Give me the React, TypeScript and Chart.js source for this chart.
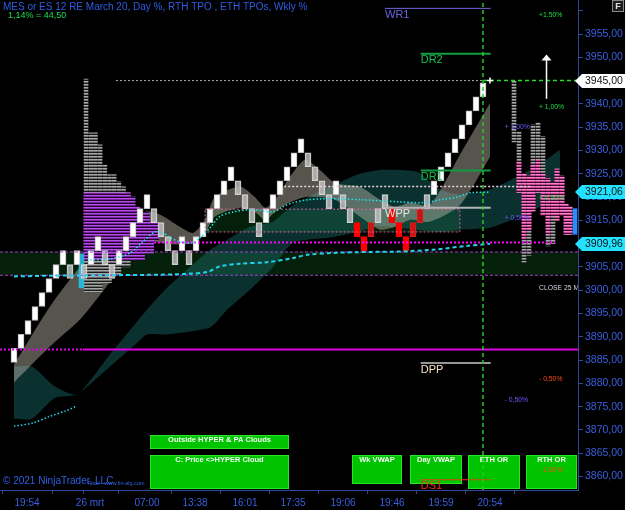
import React, { useEffect, useRef } from 'react';
import { Chart, registerables } from 'chart.js';

Chart.register(...registerables);

const FONT = '"Liberation Sans", Arial, Helvetica, sans-serif';
const AXIS_LINE = '#2f4596';
const AXIS_TEXT = '#3b5fe0';

// ---------- axes ----------
const yMin = 3857.1;
const yMax = 3962.3;
const xMin = -2;
const xMax = 80.57;
const xTickCols = [1.86, 9, 10.86, 19, 25.86, 33, 39.86, 47, 54, 61, 68];
const xTickLabels = ['19:54', '', '26 mrt', '07:00', '13:38', '16:01', '17:35', '19:06', '19:46', '19:59', '20:54'];

// ---------- renko bricks (3 pt) ----------
const BRICK_SIZE = 3;
const brickLow = [
  3884.5, 3887.5, 3890.5, 3893.5, 3896.5, 3899.5, 3902.5, 3905.5, 3902.5, 3905.5,
  3902.5, 3905.5, 3908.5, 3905.5, 3902.5, 3905.5, 3908.5, 3911.5, 3914.5, 3917.5,
  3914.5, 3911.5, 3908.5, 3905.5, 3908.5, 3905.5, 3908.5, 3911.5, 3914.5, 3917.5,
  3920.5, 3923.5, 3920.5, 3917.5, 3914.5, 3911.5, 3914.5, 3917.5, 3920.5, 3923.5,
  3926.5, 3929.5, 3926.5, 3923.5, 3920.5, 3917.5, 3920.5, 3917.5, 3914.5, 3911.5,
  3908.5, 3911.5, 3914.5, 3917.5, 3914.5, 3911.5, 3908.5, 3911.5, 3914.5, 3917.5,
  3920.5, 3923.5, 3926.5, 3929.5, 3932.5, 3935.5, 3938.5, 3941.5,
];
const brickPaint = ('WWWWWWWW' + 'GWGWWGGWWWWW' + 'GGGG' + 'WG' + 'WWWWWW' + 'GGGG' + 'WWWWWW' +
  'GGGG' + 'W' + 'GG' + 'RR' + 'D' + 'GG' + 'RRR' + 'DD' + 'G' + 'WWWWWWWW').split('');

const markerCol = [9.64];
const markerLow = [3900.5];
const markerHigh = [3907.8];

// ---------- RTH TPO profile (left) ----------
const leftTpoCol = [10.29, 10.96, 11.63, 12.3, 12.97, 13.64, 14.31, 14.98, 15.65, 16.32, 16.99, 17.66, 18.33, 19.0, 19.67, 20.34];
const leftTpoLow = [3899.7, 3899.7, 3899.7, 3899.7, 3901.6, 3901.6, 3903.3, 3903.3, 3905.0, 3905.0, 3906.5, 3906.5, 3906.5, 3908.0, 3908.0, 3910.8];
const leftTpoHigh = [3945.3, 3933.8, 3933.8, 3931.2, 3926.9, 3924.8, 3924.8, 3923.3, 3922.2, 3920.9, 3920.0, 3917.9, 3916.6, 3916.6, 3914.5, 3914.5];
const valueAreaLow = 3906.5;
const valueAreaHigh = 3920.9;

// ---------- ETH TPO profile (right) ----------
const rightTpoCol = [71.43, 72.14, 72.86, 73.57, 74.14, 74.86, 75.57, 76.29, 77.0, 77.57, 78.29, 78.86, 79.43];
const rightTpoLow = [3931.8, 3921.0, 3906.0, 3907.5, 3917.0, 3921.0, 3916.0, 3909.5, 3910.0, 3915.0, 3916.0, 3912.0, 3912.0];
const rightTpoHigh = [3945.0, 3934.0, 3925.0, 3924.5, 3935.5, 3936.0, 3933.0, 3924.0, 3923.0, 3926.0, 3924.5, 3918.5, 3918.0];
const rightPinkLow = [null, 3921.0, 3911.0, 3913.0, 3917.0, 3921.0, 3916.0, 3912.0, 3916.0, 3915.0, 3916.0, 3912.0, 3912.0];
const rightPinkHigh = [null, 3927.5, 3925.0, 3924.5, 3927.0, 3928.0, 3925.0, 3924.0, 3923.0, 3926.0, 3924.5, 3918.5, 3918.0];
const blueBarCol = [80.14];
const blueBarLow = [3912.0];
const blueBarHigh = [3917.5];

// ---------- VWAP lines ----------
const vwapACol = [10.9, 13.7, 16.6, 18.4, 20.1, 21.3, 22.3, 23.7, 25.6, 26.6, 28, 29.4, 31.3, 34.1, 37, 38.4, 39.9, 41.9, 43.7, 46.6, 49.9, 54.7, 58.4, 60.9, 63.3, 65.1, 68];
const vwapAVal = [3906.5, 3906.7, 3908.0, 3910.4, 3912.5, 3912.3, 3911.3, 3910.4, 3910.2, 3911.3, 3913.4, 3915.8, 3916.8, 3917.3, 3916.8, 3917.9, 3918.8, 3919.4, 3919.6, 3919.6, 3919.4, 3919.0, 3918.8, 3919.4, 3920.0, 3920.9, 3921.06];
const vwapBCol = [0, 5.1, 12.3, 19.4, 24.7, 27.6, 29.4, 32.3, 36.1, 39.9, 41.9, 45.6, 50.4, 55.1, 59.9, 64.7, 68];
const vwapBVal = [3902.95, 3903.1, 3903.2, 3903.3, 3903.5, 3903.9, 3905.1, 3905.7, 3906.0, 3906.9, 3907.6, 3908.0, 3908.2, 3908.3, 3908.7, 3909.5, 3909.96];
const vwapCCol = [0, 2.7, 5.1, 7.6, 8.9];
const vwapCVal = [3870.8, 3871.5, 3872.9, 3874.2, 3875.1];

// ---------- clouds ----------
const hyperCol = [0, 5.14, 9.43, 12.3, 16.1, 18.7, 20.9, 23.7, 25.6, 27.3, 28.7, 32.3, 34.4, 35.9, 37.3, 39.4, 41.6, 43.7, 45.9, 49.4, 52.3, 54.4, 56.6, 59.4, 63.7, 68];
const hyperUpper = [3884.0, 3896.5, 3905.0, 3908.7, 3911.9, 3916.8, 3916.2, 3913.6, 3912.3, 3915.1, 3920.0, 3922.2, 3920.0, 3917.7, 3919.4, 3924.3, 3928.0, 3925.8, 3923.0, 3922.2, 3919.4, 3917.9, 3918.8, 3918.3, 3929.1, 3940.2];
const hyperLower = [3880.2, 3887.9, 3893.7, 3899.0, 3906.5, 3910.8, 3910.2, 3909.8, 3910.2, 3912.3, 3915.8, 3917.7, 3916.8, 3915.1, 3916.8, 3918.8, 3920.0, 3920.0, 3919.4, 3915.8, 3913.0, 3913.6, 3915.1, 3914.7, 3918.3, 3928.6];
const paCol = [0, 2.57, 5.86, 9, 13.71, 17, 19, 21.86, 28, 30.43, 33.71, 37, 39.86, 45.14, 49, 52.29, 57.57, 60.86, 63.71, 68, 73.71, 78];
const paUpper = [3883.6, 3883.6, 3879.3, 3877.6, 3886.2, 3892.2, 3895.8, 3900.5, 3908.7, 3910.8, 3913.6, 3914.7, 3918.3, 3922.2, 3924.8, 3925.8, 3925.4, 3921.6, 3920.5, 3921.6, 3925.8, 3930.1];
const paLower = [3872.4, 3872.4, 3876.9, 3877.6, 3883.6, 3887.9, 3890.5, 3890.5, 3892.0, 3895.8, 3900.1, 3905.0, 3910.2, 3911.3, 3912.5, 3913.8, 3913.0, 3912.5, 3913.0, 3913.4, 3916.8, 3920.0];

// ---------- zones & levels ----------
const zoneFrom = [xMin, 27.3];
const zoneTo = [xMax, 63.7];
const zoneLow = [3903.2, 3912.5];
const zoneHigh = [3908.2, 3917.4];
const lastClose = 3945;
const priorHighFrom = 14.57;
const lastBrickCol = 67;
const magentaLevel = 3887.25;
const magentaSplit = 9.86;
const magentaDotLevel = 3910.25;
const magentaDotFrom = 20;
const magentaDotTo = 77.3;
const closeLevel = 3922.25;
const closeFrom = 38.6;
const closeTo = 73.7;

const pivotNames = ['WR1', 'DR2', 'DR1', 'WPP', 'DPP', 'DS1'];
const pivotPrices = [3960.5, 3950.75, 3925.7, 3917.7, 3884.35, 3859.3];
const pivotFrom = [53, 58.1, 58.1, 53, 58.1, 58.1];
const pivotTo = 68.1;

const dayPctText = ['+1.50%', '+ 1,00%', '+ 0,50%', '- 0,50%', '- 1,00%'];
const dayPctPrice = [3959.1, 3939.4, 3919.8, 3881.0, 3861.3];
const dayPctCol = 75;
const wkPctText = ['+ 1,00%', '+ 0,50%', '- 0,50%'];
const wkPctPrice = [3935.05, 3915.5, 3876.5];
const wkPctCol = 70.1;
const closeNoteCol = 75;
const closeNotePrice = 3900.5;
const arrowCol = 76;
const arrowFrom = 3941.1;
const arrowTo = 3950.6;

const priceTags = [3945.0, 3921.06, 3909.96];
const priceTagColors = ['#ffffff', '#22e2ff', '#22e2ff'];

// ---------- layout (pixels) ----------
const statusBoxes = [
  { t: 'Outside HYPER & PA Clouds', x: 150, y: 435, w: 139, h: 14 },
  { t: 'C: Price <>HYPER Cloud', x: 150, y: 455, w: 139, h: 34 },
  { t: 'Wk VWAP', x: 352, y: 455, w: 50, h: 29 },
  { t: 'Day VWAP', x: 410, y: 455, w: 52, h: 29 },
  { t: 'ETH OR', x: 468, y: 455, w: 52, h: 34 },
  { t: 'RTH OR', x: 526, y: 455, w: 51, h: 34 },
];

const PIVOT_LINE = ['#6e66dc', '#10a040', '#139a45', '#b4b4b4', '#c8c8c8', '#e04010'];
const PIVOT_TEXT = ['#6b62e0', '#18c050', '#18c050', '#e8e8e8', '#f5e6c8', '#ff2a10'];
const PIVOT_W = [1, 2, 2, 2, 1.5, 1];

function stripes(c0: string, c1: string, c2: string) {
  const c = document.createElement('canvas');
  c.width = 6; c.height = 3;
  const g = c.getContext('2d')!;
  g.fillStyle = c0; g.fillRect(0, 0, 6, 1);
  g.fillStyle = c1; g.fillRect(0, 1, 6, 1);
  g.fillStyle = c2; g.fillRect(0, 2, 6, 1);
  return g.createPattern(c, 'repeat')!;
}

const pts = (xs: number[], ys: number[]) => xs.map((v, i) => ({ x: v, y: ys[i] }));
const seg = (x0: number, x1: number, p: number) => [{ x: x0, y: p }, { x: x1, y: p }];
const line = (data: any[], color: string, width: number, dash: number[], order: number, extra: any = {}) => ({
  type: 'line', data, borderColor: color, borderWidth: width, borderDash: dash,
  pointRadius: 0, fill: false, tension: 0, order, ...extra,
});

const zeroPad = (s: any) => {
  s.paddingLeft = 0; s.paddingRight = 0; s.paddingTop = 0; s.paddingBottom = 0;
};

const bgPlugin = {
  id: 'bg',
  beforeDraw(chart: any) {
    const { ctx, width, height } = chart;
    ctx.save();
    ctx.fillStyle = '#000000';
    ctx.fillRect(0, 0, width, height);
    ctx.restore();
  },
};

const zonesPlugin = {
  id: 'zones',
  beforeDatasetsDraw(chart: any) {
    const { ctx, scales: { x, y } } = chart;
    ctx.save();
    ctx.fillStyle = '#05200a';
    for (let i = 0; i < zoneLow.length; i++) {
      const x0 = x.getPixelForValue(zoneFrom[i]);
      const x1 = x.getPixelForValue(zoneTo[i]);
      const y0 = y.getPixelForValue(zoneHigh[i]);
      const y1 = y.getPixelForValue(zoneLow[i]);
      ctx.fillRect(x0, y0, x1 - x0, y1 - y0);
    }
    for (const b of statusBoxes) {
      ctx.fillStyle = '#00c400';
      ctx.fillRect(b.x, b.y, b.w, b.h);
      ctx.strokeStyle = '#27e627';
      ctx.lineWidth = 1;
      ctx.strokeRect(b.x + 0.5, b.y + 0.5, b.w - 1, b.h - 1);
      ctx.fillStyle = '#f4fff4';
      ctx.font = `bold 7.5px ${FONT}`;
      ctx.textAlign = 'center';
      ctx.textBaseline = 'middle';
      ctx.fillText(b.t, b.x + b.w / 2, b.y + 4.5);
    }
    ctx.restore();
  },
};

const labelsPlugin = {
  id: 'labels',
  afterDatasetsDraw(chart: any) {
    const { ctx, chartArea: a, scales: { x, y } } = chart;
    ctx.save();
    ctx.beginPath();
    ctx.rect(a.left, a.top, a.right - a.left, a.bottom - a.top);
    ctx.clip();
    ctx.textAlign = 'left';
    ctx.textBaseline = 'top';
    ctx.font = `11px ${FONT}`;
    pivotNames.forEach((n, i) => {
      ctx.fillStyle = PIVOT_TEXT[i];
      ctx.fillText(n, x.getPixelForValue(pivotFrom[i]), y.getPixelForValue(pivotPrices[i]) + 1);
    });
    ctx.textBaseline = 'middle';
    ctx.font = `6.8px ${FONT}`;
    dayPctText.forEach((t, i) => {
      ctx.fillStyle = t.startsWith('+') ? '#19e04a' : '#ff4a12';
      ctx.fillText(t, x.getPixelForValue(dayPctCol), y.getPixelForValue(dayPctPrice[i]));
    });
    wkPctText.forEach((t, i) => {
      ctx.fillStyle = '#6a5cff';
      ctx.fillText(t, x.getPixelForValue(wkPctCol), y.getPixelForValue(wkPctPrice[i]));
    });
    ctx.fillStyle = '#d4d4e4';
    ctx.fillText('CLOSE 25 M', x.getPixelForValue(closeNoteCol), y.getPixelForValue(closeNotePrice));
    const ax = Math.round(x.getPixelForValue(arrowCol)) + 0.5;
    const ay0 = y.getPixelForValue(arrowFrom);
    const ay1 = y.getPixelForValue(arrowTo);
    ctx.strokeStyle = '#ffffff';
    ctx.lineWidth = 1.5;
    ctx.beginPath();
    ctx.moveTo(ax, ay0);
    ctx.lineTo(ax, ay1 + 4);
    ctx.stroke();
    ctx.fillStyle = '#ffffff';
    ctx.beginPath();
    ctx.moveTo(ax, ay1);
    ctx.lineTo(ax - 5, ay1 + 6);
    ctx.lineTo(ax + 5, ay1 + 6);
    ctx.closePath();
    ctx.fill();
    ctx.restore();
  },
  afterDraw(chart: any) {
    const { ctx, chartArea: a, scales: { y } } = chart;
    ctx.save();
    ctx.font = `10.5px ${FONT}`;
    ctx.textBaseline = 'middle';
    ctx.textAlign = 'left';
    priceTags.forEach((p, i) => {
      const yy = Math.round(y.getPixelForValue(p));
      const tip = a.right - 3;
      ctx.fillStyle = priceTagColors[i];
      ctx.beginPath();
      ctx.moveTo(tip, yy);
      ctx.lineTo(tip + 7, yy - 7);
      ctx.lineTo(chart.width, yy - 7);
      ctx.lineTo(chart.width, yy + 7);
      ctx.lineTo(tip + 7, yy + 7);
      ctx.closePath();
      ctx.fill();
      ctx.fillStyle = '#111111';
      ctx.fillText(p.toFixed(2).replace('.', ','), a.right + 7, yy + 0.5);
    });
    ctx.font = `10px ${FONT}`;
    ctx.fillStyle = '#2e5ce6';
    ctx.fillText('MES or ES 12 RE March 20, Day %, RTH TPO , ETH TPOs, Wkly %', 3, 7);
    ctx.font = `9px ${FONT}`;
    ctx.fillStyle = '#14e050';
    ctx.fillText('1,14% = 44,50', 8, 16);
    ctx.font = `10px ${FONT}`;
    ctx.fillStyle = '#3060e0';
    ctx.fillText('© 2021 NinjaTrader, LLC', 3, 481);
    ctx.font = `5.5px ${FONT}`;
    ctx.fillText('Fisal - www.fin-alg.com', 88, 483);
    ctx.fillStyle = '#1c1c1c';
    ctx.fillRect(612, 0, 12, 12);
    ctx.strokeStyle = '#8a8a8a';
    ctx.lineWidth = 1;
    ctx.strokeRect(612.5, 0.5, 11, 11);
    ctx.fillStyle = '#e0e0e0';
    ctx.font = `bold 9px ${FONT}`;
    ctx.textAlign = 'center';
    ctx.fillText('F', 618, 6.5);
    ctx.restore();
  },
};

export default function App() {
  const ref = useRef<HTMLCanvasElement | null>(null);

  useEffect(() => {
    const canvas = ref.current;
    if (!canvas) return;

    const greyPat = stripes('#a8a8a8', '#6e6e6e', '#1a1a1a');
    const purplePat = stripes('#b44ee6', '#7c1eaa', '#22062c');
    const pinkPat = stripes('#ff7ed0', '#d04496', '#3e0c2a');

    const brickFill: Record<string, string> = {
      W: '#ffffff', G: 'rgba(188,188,188,0.84)', R: '#ff0000', D: '#c81414',
    };
    const brickBorder: Record<string, string> = {
      W: '#bdbdbd', G: 'rgba(225,225,225,0.9)', R: '#ff0000', D: '#d82020',
    };

    const datasets: any[] = [
      line(pts(paCol, paUpper), 'rgba(0,0,0,0)', 0, [], 100, { fill: '+1', backgroundColor: 'rgba(30,125,125,0.38)', tension: 0.2 }),
      line(pts(paCol, paLower), 'rgba(0,0,0,0)', 0, [], 100, { tension: 0.2 }),
      line(pts(hyperCol, hyperUpper), 'rgba(0,0,0,0)', 0, [], 95, { fill: '+1', backgroundColor: 'rgba(195,192,175,0.44)', tension: 0.25 }),
      line(pts(hyperCol, hyperLower), 'rgba(0,0,0,0)', 0, [], 95, { tension: 0.25 }),
      {
        type: 'bar', order: 70, grouped: false, barThickness: 4, borderWidth: 0, borderSkipped: false,
        data: leftTpoCol.map((c, i) => ({ x: c, y: [leftTpoLow[i], leftTpoHigh[i]] })),
        backgroundColor: greyPat,
      },
      {
        type: 'bar', order: 69, grouped: false, barThickness: 4, borderWidth: 0, borderSkipped: false,
        data: leftTpoCol.map((c, i) => ({ x: c, y: [Math.max(leftTpoLow[i], valueAreaLow), Math.min(leftTpoHigh[i], valueAreaHigh)] }))
          .filter((d) => d.y[1] > d.y[0]),
        backgroundColor: purplePat,
      },
      {
        type: 'bar', order: 70, grouped: false, barThickness: 4, borderWidth: 0, borderSkipped: false,
        data: rightTpoCol.map((c, i) => ({ x: c, y: [rightTpoLow[i], rightTpoHigh[i]] })),
        backgroundColor: greyPat,
      },
      {
        type: 'bar', order: 69, grouped: false, barThickness: 4, borderWidth: 0, borderSkipped: false,
        data: rightTpoCol.map((c, i) => ({ x: c, y: [rightPinkLow[i], rightPinkHigh[i]] }))
          .filter((d) => d.y[0] != null),
        backgroundColor: pinkPat,
      },
      {
        type: 'bar', order: 69, grouped: false, barThickness: 4, borderWidth: 0, borderSkipped: false,
        data: blueBarCol.map((c, i) => ({ x: c, y: [blueBarLow[i], blueBarHigh[i]] })),
        backgroundColor: '#2a8cff',
      },
      {
        type: 'bar', order: 51, grouped: false, barThickness: 5, borderWidth: 0, borderSkipped: false,
        data: markerCol.map((c, i) => ({ x: c, y: [markerLow[i], markerHigh[i]] })),
        backgroundColor: 'rgba(40,200,240,0.85)',
      },
      {
        type: 'bar', order: 50, grouped: false, barThickness: 6, borderWidth: 1, borderSkipped: false,
        data: brickLow.map((lo, i) => ({ x: i, y: [lo, lo + BRICK_SIZE] })),
        backgroundColor: (c: any) => brickFill[brickPaint[c.dataIndex]] || '#fff',
        borderColor: (c: any) => brickBorder[brickPaint[c.dataIndex]] || '#bbb',
      },
      line(seg(zoneFrom[0], zoneTo[0], zoneHigh[0]), '#a040c8', 1, [3, 2], 40),
      line(seg(zoneFrom[0], zoneTo[0], zoneLow[0]), '#a040c8', 1, [3, 2], 40),
      line([
        { x: zoneFrom[1], y: zoneHigh[1] }, { x: zoneTo[1], y: zoneHigh[1] },
        { x: zoneTo[1], y: zoneLow[1] }, { x: zoneFrom[1], y: zoneLow[1] }, { x: zoneFrom[1], y: zoneHigh[1] },
      ], '#e060a0', 1, [2, 2], 40),
      line(seg(xMin, magentaSplit, magentaLevel), '#e000e0', 2, [2, 2], 40),
      line(seg(magentaSplit, xMax, magentaLevel), '#e000e0', 2, [], 40),
      line(seg(magentaDotFrom, magentaDotTo, magentaDotLevel), '#ff00ff', 2, [2, 2], 40),
      line(seg(closeFrom, closeTo, closeLevel), '#ecd2dc', 1.5, [2, 2], 40),
      line(seg(priorHighFrom, lastBrickCol, lastClose), '#b0b0b0', 1, [2, 2], 40),
      line(seg(lastBrickCol, xMax, lastClose), '#22dd22', 1.5, [4, 3], 12),
      line(pts(vwapACol, vwapAVal), '#1ee6e6', 1.5, [1.5, 2], 30, { tension: 0.3 }),
      line(pts(vwapBCol, vwapBVal), '#22d3ee', 2, [4, 3], 30, { tension: 0.3 }),
      line(pts(vwapCCol, vwapCVal), '#22d3ee', 1.5, [1.5, 2], 30, { tension: 0.3 }),
      ...pivotNames.map((_, i) => line(seg(pivotFrom[i], pivotTo, pivotPrices[i]), PIVOT_LINE[i], PIVOT_W[i], [], 20)),
      line([{ x: lastBrickCol, y: yMin }, { x: lastBrickCol, y: yMax }], '#22cc22', 1.5, [4, 3], 10),
      {
        type: 'line', order: 5, showLine: false, data: [{ x: lastBrickCol + 1, y: lastClose }],
        pointStyle: 'cross', pointRadius: 3, borderColor: '#ffffff', borderWidth: 1.5,
      },
    ];

    const chart = new Chart(canvas, {
      type: 'bar',
      data: { datasets },
      options: {
        animation: false,
        responsive: false,
        devicePixelRatio: 1,
        events: [],
        layout: { padding: 0, autoPadding: false },
        plugins: { legend: { display: false }, tooltip: { enabled: false } },
        scales: {
          x: {
            type: 'linear', min: xMin, max: xMax, offset: false,
            afterBuildTicks: (s: any) => { s.ticks = xTickCols.map((v) => ({ value: v })); },
            afterFit: (s: any) => { s.height = 20; zeroPad(s); },
            ticks: {
              autoSkip: false, maxRotation: 0, padding: 3, color: AXIS_TEXT,
              font: { family: FONT, size: 10 },
              callback: (_v: any, i: number) => xTickLabels[i] ?? '',
            },
            grid: { drawOnChartArea: false, drawTicks: true, tickLength: 4, color: AXIS_LINE },
            border: { display: true, color: AXIS_LINE, width: 1 },
          },
          y: {
            type: 'linear', position: 'right', min: yMin, max: yMax,
            afterFit: (s: any) => { s.width = 47; zeroPad(s); },
            ticks: {
              stepSize: 5, includeBounds: false, padding: 2, color: AXIS_TEXT,
              font: { family: FONT, size: 10.5 },
              callback: (v: any) => (Number(v) > 3957 ? '' : Number(v).toFixed(2).replace('.', ',')),
            },
            grid: { drawOnChartArea: false, drawTicks: true, tickLength: 5, color: AXIS_LINE },
            border: { display: true, color: AXIS_LINE, width: 1 },
          },
        },
      } as any,
      plugins: [bgPlugin, zonesPlugin, labelsPlugin],
    });

    return () => chart.destroy();
  }, []);

  return (
    <div style={{ position: 'fixed', left: 0, top: 0, width: 625, height: 510, background: '#000' }}>
      <canvas ref={ref} width={625} height={510} style={{ display: 'block' }} />
    </div>
  );
}
